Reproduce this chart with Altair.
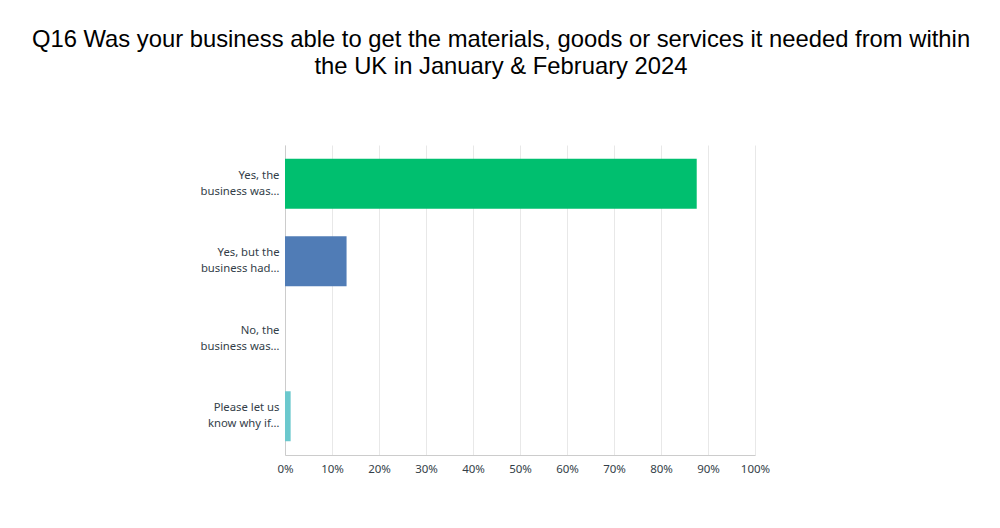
import altair as alt
import pandas as pd

categories = [
    "Yes, the\nbusiness was…",
    "Yes, but the\nbusiness had…",
    "No, the\nbusiness was…",
    "Please let us\nknow why if…",
]
values = [0.876, 0.131, 0.0, 0.012]
colors = ["#00BF6F", "#507CB6", "#F9BE00", "#6BC8CD"]

df = pd.DataFrame({"cat": categories, "val": values})

chart = alt.Chart(df).mark_bar().encode(
    x=alt.X("val:Q", scale=alt.Scale(domain=[0, 1], nice=False),
            axis=alt.Axis(format=".0%", values=[i / 10 for i in range(11)], title=None,
                          grid=True, gridColor="#e8e8e8", domainColor="#cccccc",
                          ticks=False, labelPadding=8, labelFont="Noto Sans",
                          labelFontSize=11.5, labelColor="#333e48", labelFlush=False,
                          labelOverlap=False)),
    y=alt.Y("cat:N", sort=categories,
            scale=alt.Scale(paddingInner=0.355, paddingOuter=0.1775),
            axis=alt.Axis(title=None, ticks=False, domainColor="#cccccc",
                          labelExpr="split(datum.value, '\\n')", labelLineHeight=16,
                          labelPadding=6, labelFont="Noto Sans", labelFontSize=11.3,
                          labelColor="#333e48", labelBaseline="middle", labelOffset=-8)),
    color=alt.Color("cat:N", sort=categories,
                    scale=alt.Scale(domain=categories, range=colors), legend=None),
).properties(
    width=470,
    height=310,
    autosize=alt.AutoSizeParams(type="none"),
    padding={"left": 277, "top": 137, "right": 237, "bottom": 60},
    title=alt.TitleParams(
        text=["Q16 Was your business able to get the materials, goods or services it needed from within",
              "the UK in January & February 2024"],
        font="Liberation Sans", fontSize=23.8, fontWeight="normal", color="#000000",
        anchor="middle", dx=-19, offset=66, lineHeight=27,
    ),
).configure_view(stroke=None)

chart.save("out.html", embed_options={"renderer": "svg", "actions": False})
